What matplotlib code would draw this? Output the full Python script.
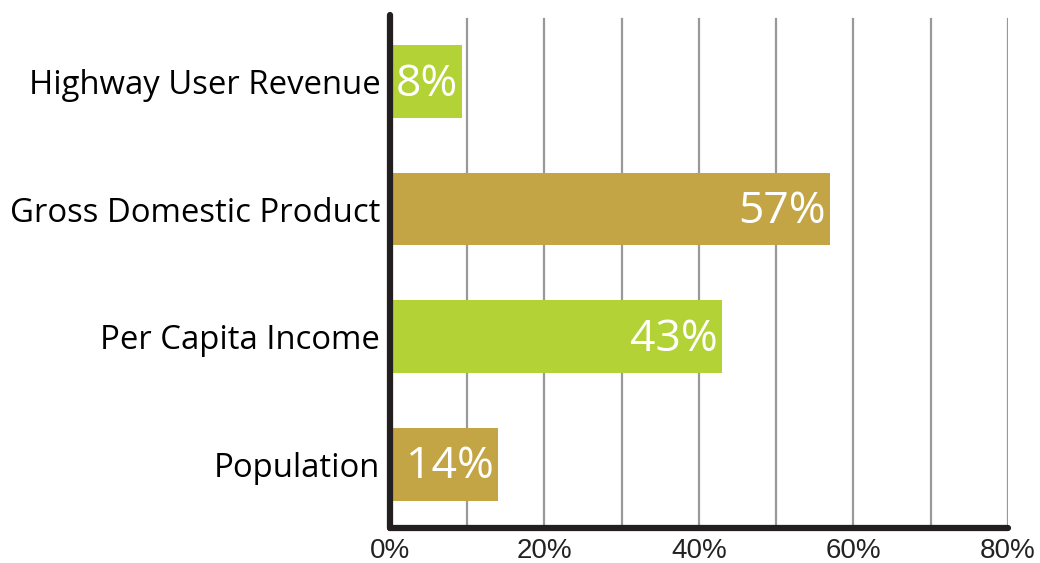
import numpy as np
import matplotlib
matplotlib.use("Agg")
import matplotlib.pyplot as plt

categories = ["Highway User Revenue", "Gross Domestic Product", "Per Capita Income", "Population"]
bar_values = [9.3, 57, 43, 14]
value_labels = ["8%", "57%", "43%", "14%"]
colors = ["#b2d235", "#c4a545", "#b2d235", "#c4a545"]
xticks = [0, 20, 40, 60, 80]
xtick_labels = ["0%", "20%", "40%", "60%", "80%"]

fig = plt.figure(figsize=(10.4, 5.63), dpi=100)
ax = fig.add_axes([0.375, 0.062, 0.594, 0.911])

y = np.arange(len(categories))[::-1]
ax.barh(y, bar_values, height=0.57, color=colors, zorder=3)

for yi, v, lab in zip(y, bar_values, value_labels):
    ax.annotate(lab, (v, yi), xytext=(-3, -2), textcoords="offset points",
                ha="right", va="center", color="white", fontsize=32,
                family="Open Sans", fontweight="medium", zorder=4)

ax.set_xlim(0, 80)
ax.set_ylim(-0.5, 3.52)
ax.set_xticks(xticks)
ax.set_xticklabels(xtick_labels, family="Liberation Sans", fontsize=20, color="#222222")
ax.set_yticks(y)
ax.set_yticklabels(categories, family="Open Sans", fontsize=23.7, color="black")
ax.tick_params(axis="both", length=0, pad=7)

for xv in np.arange(10, 81, 10):
    ax.axvline(xv, ymin=0, ymax=0.992, color="#999999", lw=1.6, zorder=1)

for s in ["top", "right"]:
    ax.spines[s].set_visible(False)
for s in ["left", "bottom"]:
    ax.spines[s].set_linewidth(4.5)
    ax.spines[s].set_color("#231f20")
    ax.spines[s].set_capstyle("round")
ax.spines["bottom"].set_zorder(5)
ax.spines["left"].set_zorder(5)

fig.savefig("out.png", dpi=100)
